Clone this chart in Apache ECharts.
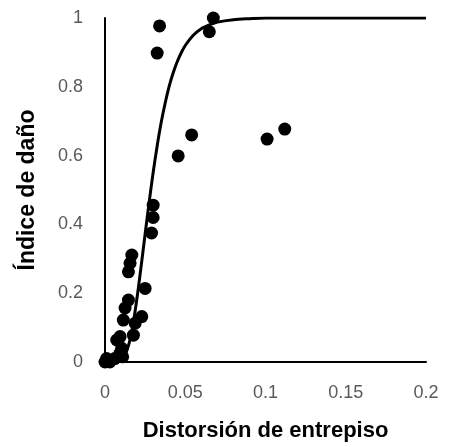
<!DOCTYPE html>
<html>
<head>
<meta charset="utf-8">
<script src="https://cdn.jsdelivr.net/npm/echarts@6/dist/echarts.min.js"></script>
<style>
  html, body { margin: 0; padding: 0; background: #fff; }
  #chart { width: 461px; height: 447px; }
</style>
</head>
<body>
<div id="chart"></div>
<script>
// observed points (drift, damage index)
var driftObs = [0.000, 0.003, 0.001, 0.006, 0.011, 0.0094, 0.0104, 0.0073, 0.0094, 0.0177,
  0.0188, 0.0114, 0.0229, 0.0125, 0.0146, 0.025, 0.0146, 0.0156, 0.0167,
  0.029, 0.030, 0.030, 0.0325, 0.034, 0.0456, 0.054, 0.065, 0.0675, 0.101, 0.112];
var damageObs = [0.000, 0.000, 0.010, 0.010, 0.015, 0.026, 0.040, 0.064, 0.074, 0.078,
  0.113, 0.122, 0.132, 0.157, 0.180, 0.214, 0.262, 0.287, 0.311,
  0.375, 0.420, 0.456, 0.898, 0.977, 0.599, 0.660, 0.960, 1.000, 0.648, 0.677];

// fitted curve
var driftFit = [0, 0.005, 0.0075, 0.01, 0.0125, 0.015, 0.0175, 0.02, 0.0225, 0.025, 0.0275, 0.03,
  0.0325, 0.035, 0.0375, 0.04, 0.0425, 0.045, 0.0475, 0.05, 0.055, 0.06, 0.065, 0.07, 0.08, 0.09, 0.1, 0.15, 0.2];
var damageFit = [0, 0.000, 0.000, 0.004, 0.020, 0.054, 0.110, 0.188, 0.278, 0.372, 0.464, 0.551,
  0.628, 0.696, 0.753, 0.802, 0.841, 0.873, 0.899, 0.920, 0.950, 0.969, 0.980, 0.988, 0.995, 0.998, 1.0, 1.0, 1.0];

var xTicks = [0, 0.05, 0.1, 0.15, 0.2];
var yTicks = [0, 0.2, 0.4, 0.6, 0.8, 1];

var pts = driftObs.map(function (x, i) { return [x, damageObs[i]]; });
var fit = driftFit.map(function (x, i) { return [x, damageFit[i]]; });

var chart = echarts.init(document.getElementById('chart'));
chart.setOption({
  animation: false,
  grid: { left: 105, right: 35, top: 18, bottom: 85 },
  xAxis: {
    type: 'value',
    min: xTicks[0], max: xTicks[xTicks.length - 1], interval: 0.05,
    name: 'Distorsión de entrepiso',
    nameLocation: 'middle', nameGap: 58,
    nameTextStyle: { fontFamily: 'Liberation Sans', fontWeight: 'bold', fontSize: 22, color: '#000' },
    axisLine: { lineStyle: { color: '#000', width: 2 } },
    axisTick: { show: false },
    splitLine: { show: false },
    axisLabel: { color: '#595959', fontSize: 18, fontFamily: 'Liberation Sans', margin: 22 }
  },
  yAxis: {
    type: 'value',
    min: yTicks[0], max: yTicks[yTicks.length - 1], interval: 0.2,
    name: 'Índice de daño',
    nameLocation: 'middle', nameGap: 66,
    nameTextStyle: { fontFamily: 'Liberation Sans', fontWeight: 'bold', fontSize: 23, color: '#000' },
    axisLine: { show: true, lineStyle: { color: '#000', width: 2 } },
    axisTick: { show: false },
    splitLine: { show: false },
    axisLabel: { color: '#595959', fontSize: 18, fontFamily: 'Liberation Sans', margin: 22 }
  },
  series: [
    {
      type: 'scatter',
      data: pts,
      symbol: 'circle',
      symbolSize: 13,
      itemStyle: { color: '#000', opacity: 1 },
      z: 2
    },
    {
      type: 'line',
      data: fit,
      smooth: 0.3,
      showSymbol: false,
      lineStyle: { color: '#000', width: 3 },
      z: 3
    }
  ]
});
</script>
</body>
</html>
